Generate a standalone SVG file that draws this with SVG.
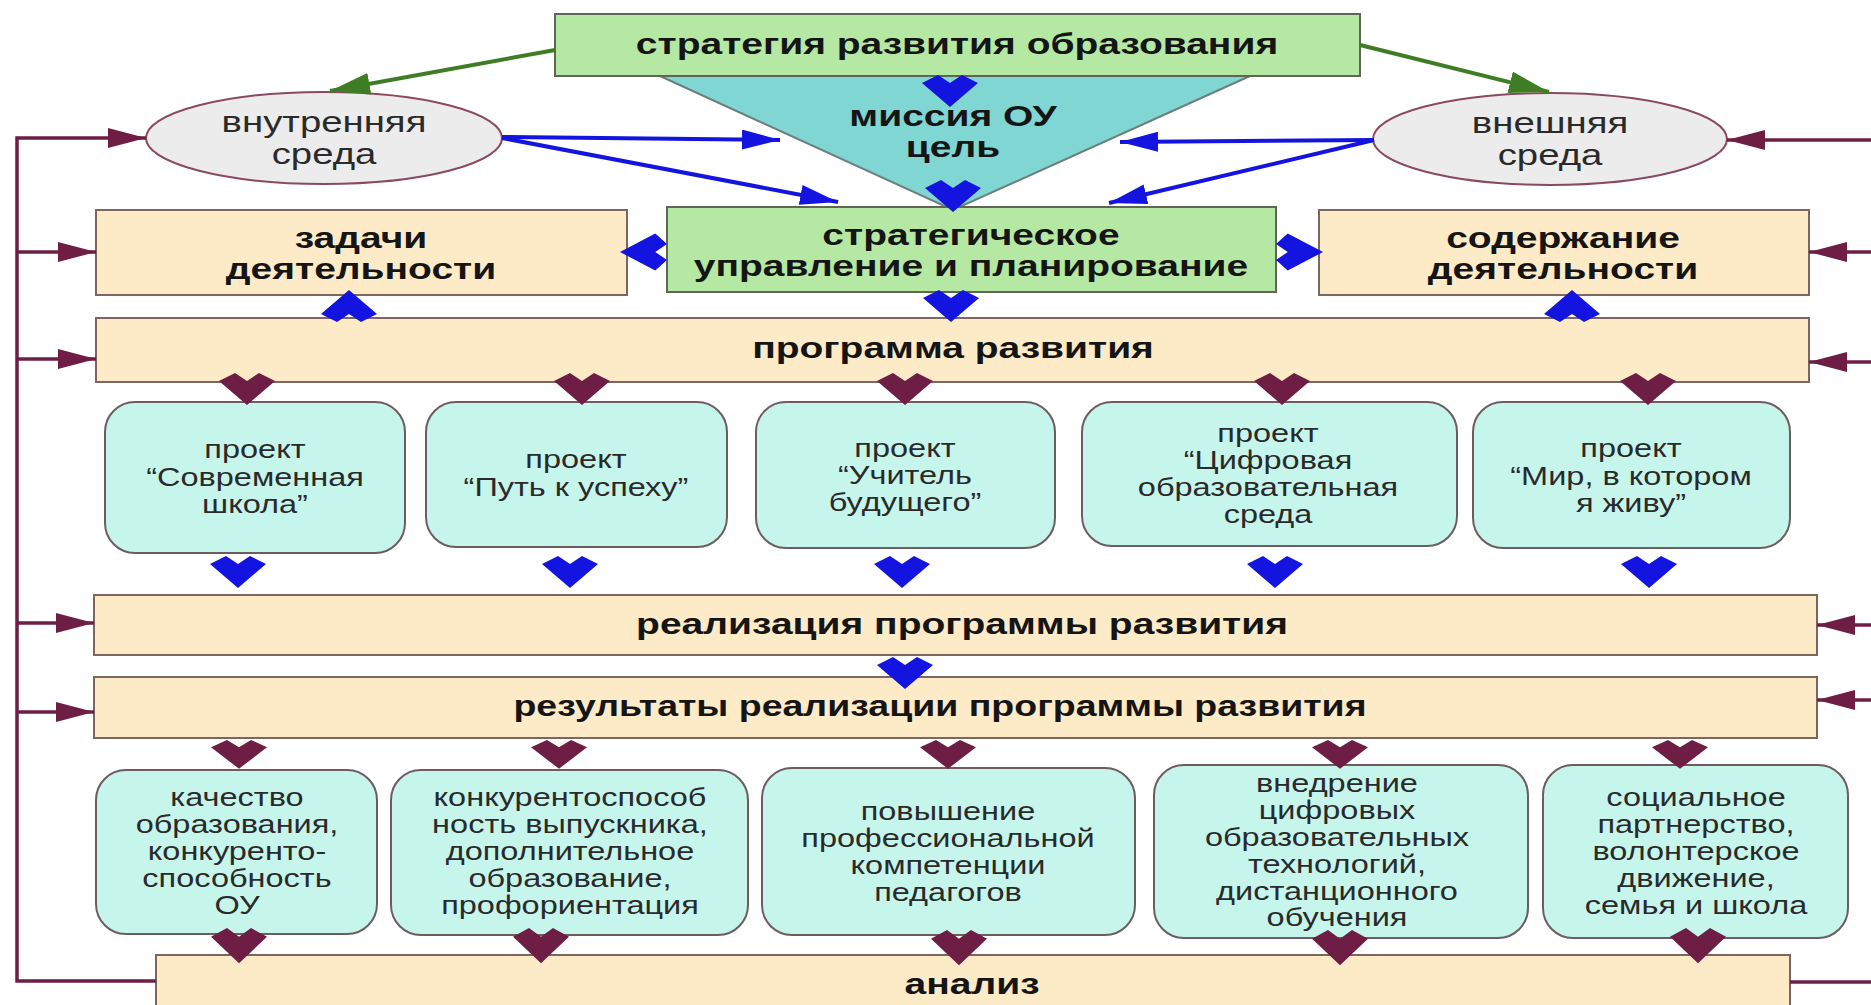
<svg xmlns="http://www.w3.org/2000/svg" xmlns:xlink="http://www.w3.org/1999/xlink" width="1871" height="1005" viewBox="0 0 1871 1005">
<style>
text{font-family:"Liberation Sans",Arial,sans-serif;text-anchor:middle;}
.b{font-weight:bold;font-size:30px;fill:#151515;}
.e{font-size:29.5px;fill:#2a2a2a;}
.p{font-size:25px;fill:#2a2a2a;}
.r{font-size:25px;fill:#2a2a2a;}
.green{fill:#b5e8a3;stroke:#5f6656;stroke-width:2;}
.beige{fill:#fdebc8;stroke:#7d6660;stroke-width:2;}
.cyan{fill:#c6f5ec;stroke:#6e5c60;stroke-width:2;}
.ell{fill:#ececec;stroke:#8a4a5c;stroke-width:2;}
.bl{stroke:#1414e0;stroke-width:4;fill:none;}
.gr{stroke:#3f7d24;stroke-width:4;fill:none;}
.mr{stroke:#6e1d45;stroke-width:3.5;fill:none;}
.fb{fill:#1414e0;}
.fm{fill:#6e1d45;}
</style>
<defs>
<marker id="mB" markerUnits="userSpaceOnUse" markerWidth="40" markerHeight="24" refX="38" refY="10" orient="auto"><path d="M0,0 L38,10 L0,20 Z" fill="#1414e0"/></marker>
<marker id="mG" markerUnits="userSpaceOnUse" markerWidth="44" markerHeight="26" refX="40" refY="11" orient="auto"><path d="M0,0 L40,11 L0,22 Z" fill="#3f7d24"/></marker>
<marker id="mM" markerUnits="userSpaceOnUse" markerWidth="42" markerHeight="24" refX="38" refY="10" orient="auto"><path d="M0,0 L38,10 L0,20 Z" fill="#6e1d45"/></marker>
<path id="fa" d="M-28,8 L-12,0 L0,8 L12,0 L28,8 L0,32 Z"/>
</defs>
<rect width="1871" height="1005" fill="#ffffff"/>

<g id="triangle-mission">
<path d="M660,76 L1250,76 L953,210 Z" fill="#80d6d2" stroke="#6c7f7e" stroke-width="2"/>
<text class="b" transform="translate(953 126) scale(1.3 1)">миссия ОУ</text>
<text class="b" transform="translate(953 157) scale(1.3 1)">цель</text>
</g>

<g id="strategy">
<rect class="green" x="555" y="14" width="805" height="62"/>
<text class="b" transform="translate(957 54) scale(1.3 1)">стратегия развития образования</text>
</g>

<g id="inner-env">
<ellipse class="ell" cx="324" cy="138" rx="178" ry="46"/>
<text class="e" transform="translate(324 132) scale(1.3 1)">внутренняя</text>
<text class="e" transform="translate(324 164) scale(1.3 1)">среда</text>
</g>

<g id="outer-env">
<ellipse class="ell" cx="1550" cy="139" rx="177" ry="46"/>
<text class="e" transform="translate(1550 133) scale(1.3 1)">внешняя</text>
<text class="e" transform="translate(1550 165) scale(1.3 1)">среда</text>
</g>

<g id="strategic-mgmt">
<rect class="green" x="667" y="207" width="609" height="85"/>
<text class="b" transform="translate(971 245) scale(1.3 1)">стратегическое</text>
<text class="b" transform="translate(971 276) scale(1.3 1)">управление и планирование</text>
</g>

<g id="tasks">
<rect class="beige" x="96" y="210" width="531" height="85"/>
<text class="b" transform="translate(361 248) scale(1.3 1)">задачи</text>
<text class="b" transform="translate(361 279) scale(1.3 1)">деятельности</text>
</g>

<g id="content">
<rect class="beige" x="1319" y="210" width="490" height="85"/>
<text class="b" transform="translate(1563 248) scale(1.3 1)">содержание</text>
<text class="b" transform="translate(1563 279) scale(1.3 1)">деятельности</text>
</g>

<g id="program">
<rect class="beige" x="96" y="318" width="1713" height="64"/>
<text class="b" transform="translate(953 358) scale(1.3 1)">программа развития</text>
</g>

<g id="project-1">
<rect class="cyan" x="105" y="402" width="300" height="151" rx="30"/>
<text class="p" transform="translate(255 458) scale(1.3 1)">проект</text>
<text class="p" transform="translate(255 486) scale(1.3 1)">“Современная</text>
<text class="p" transform="translate(255 513) scale(1.3 1)">школа”</text>
</g>
<g id="project-2">
<rect class="cyan" x="426" y="402" width="301" height="145" rx="30"/>
<text class="p" transform="translate(576 468) scale(1.3 1)">проект</text>
<text class="p" transform="translate(576 496) scale(1.3 1)">“Путь к успеху”</text>
</g>
<g id="project-3">
<rect class="cyan" x="756" y="402" width="299" height="146" rx="30"/>
<text class="p" transform="translate(905 457) scale(1.3 1)">проект</text>
<text class="p" transform="translate(905 484) scale(1.3 1)">“Учитель</text>
<text class="p" transform="translate(905 511) scale(1.3 1)">будущего”</text>
</g>
<g id="project-4">
<rect class="cyan" x="1082" y="402" width="375" height="144" rx="30"/>
<text class="p" transform="translate(1268 442) scale(1.3 1)">проект</text>
<text class="p" transform="translate(1268 469) scale(1.3 1)">“Цифровая</text>
<text class="p" transform="translate(1268 496) scale(1.3 1)">образовательная</text>
<text class="p" transform="translate(1268 523) scale(1.3 1)">среда</text>
</g>
<g id="project-5">
<rect class="cyan" x="1473" y="402" width="317" height="146" rx="30"/>
<text class="p" transform="translate(1631 457) scale(1.3 1)">проект</text>
<text class="p" transform="translate(1631 485) scale(1.3 1)">“Мир, в котором</text>
<text class="p" transform="translate(1631 512) scale(1.3 1)">я живу”</text>
</g>

<g id="implementation">
<rect class="beige" x="94" y="595" width="1723" height="60"/>
<text class="b" transform="translate(962 634) scale(1.3 1)">реализация программы развития</text>
</g>

<g id="results">
<rect class="beige" x="94" y="677" width="1723" height="61"/>
<text class="b" transform="translate(940 716) scale(1.25 1)">результаты реализации программы развития</text>
</g>

<g id="result-1">
<rect class="cyan" x="96" y="770" width="281" height="164" rx="30"/>
<text class="r" transform="translate(237 806) scale(1.3 1)">качество</text>
<text class="r" transform="translate(237 833) scale(1.3 1)">образования,</text>
<text class="r" transform="translate(237 860) scale(1.3 1)">конкуренто-</text>
<text class="r" transform="translate(237 887) scale(1.3 1)">способность</text>
<text class="r" transform="translate(237 914) scale(1.3 1)">ОУ</text>
</g>
<g id="result-2">
<rect class="cyan" x="391" y="770" width="357" height="165" rx="30"/>
<text class="r" transform="translate(570 806) scale(1.3 1)">конкурентоспособ</text>
<text class="r" transform="translate(570 833) scale(1.3 1)">ность выпускника,</text>
<text class="r" transform="translate(570 860) scale(1.3 1)">дополнительное</text>
<text class="r" transform="translate(570 887) scale(1.3 1)">образование,</text>
<text class="r" transform="translate(570 914) scale(1.3 1)">профориентация</text>
</g>
<g id="result-3">
<rect class="cyan" x="762" y="768" width="373" height="167" rx="30"/>
<text class="r" transform="translate(948 820) scale(1.3 1)">повышение</text>
<text class="r" transform="translate(948 847) scale(1.3 1)">профессиональной</text>
<text class="r" transform="translate(948 874) scale(1.3 1)">компетенции</text>
<text class="r" transform="translate(948 901) scale(1.3 1)">педагогов</text>
</g>
<g id="result-4">
<rect class="cyan" x="1154" y="765" width="374" height="173" rx="30"/>
<text class="r" transform="translate(1337 792) scale(1.3 1)">внедрение</text>
<text class="r" transform="translate(1337 819) scale(1.3 1)">цифровых</text>
<text class="r" transform="translate(1337 846) scale(1.3 1)">образовательных</text>
<text class="r" transform="translate(1337 873) scale(1.3 1)">технологий,</text>
<text class="r" transform="translate(1337 900) scale(1.3 1)">дистанционного</text>
<text class="r" transform="translate(1337 926) scale(1.3 1)">обучения</text>
</g>
<g id="result-5">
<rect class="cyan" x="1543" y="765" width="305" height="173" rx="30"/>
<text class="r" transform="translate(1696 806) scale(1.3 1)">социальное</text>
<text class="r" transform="translate(1696 833) scale(1.3 1)">партнерство,</text>
<text class="r" transform="translate(1696 860) scale(1.3 1)">волонтерское</text>
<text class="r" transform="translate(1696 887) scale(1.3 1)">движение,</text>
<text class="r" transform="translate(1696 914) scale(1.3 1)">семья и школа</text>
</g>

<g id="analysis">
<rect class="beige" x="156" y="955" width="1634" height="70"/>
<text class="b" transform="translate(972 994) scale(1.3 1)">анализ</text>
</g>

<g id="connectors">
<path class="gr" d="M555,50 L330,91" marker-end="url(#mG)"/>
<path class="gr" d="M1360,45 L1549,92" marker-end="url(#mG)"/>
<path class="bl" d="M502,137 L780,140" marker-end="url(#mB)"/>
<path class="bl" d="M502,138 L838,202" marker-end="url(#mB)"/>
<path class="bl" d="M1374,140 L1120,142" marker-end="url(#mB)"/>
<path class="bl" d="M1374,140 L1109,203" marker-end="url(#mB)"/>
<path class="mr" d="M156,981 H17 V138 H146" marker-end="url(#mM)"/>
<path class="mr" d="M17,252 H96" marker-end="url(#mM)"/>
<path class="mr" d="M17,359 H96" marker-end="url(#mM)"/>
<path class="mr" d="M17,623 H94" marker-end="url(#mM)"/>
<path class="mr" d="M17,712 H94" marker-end="url(#mM)"/>
<path class="mr" d="M1871,140 H1727" marker-end="url(#mM)"/>
<path class="mr" d="M1871,252 H1809" marker-end="url(#mM)"/>
<path class="mr" d="M1871,362 H1809" marker-end="url(#mM)"/>
<path class="mr" d="M1871,625 H1817" marker-end="url(#mM)"/>
<path class="mr" d="M1871,700 H1817" marker-end="url(#mM)"/>
<path class="mr" d="M1871,982 H1790"/>
<g class="fb">
<use xlink:href="#fa" transform="translate(950 75)"/>
<use xlink:href="#fa" transform="translate(953 180)"/>
<use xlink:href="#fa" transform="translate(951 290)"/>
<use xlink:href="#fa" transform="translate(349 322) rotate(180)"/>
<use xlink:href="#fa" transform="translate(1572 322) rotate(180)"/>
<use xlink:href="#fa" transform="translate(667 252) rotate(90) scale(0.66 1.47)"/>
<use xlink:href="#fa" transform="translate(1276 252) rotate(-90) scale(0.66 1.47)"/>
<use xlink:href="#fa" transform="translate(238 556)"/>
<use xlink:href="#fa" transform="translate(570 556)"/>
<use xlink:href="#fa" transform="translate(902 556)"/>
<use xlink:href="#fa" transform="translate(1275 556)"/>
<use xlink:href="#fa" transform="translate(1649 556)"/>
<use xlink:href="#fa" transform="translate(905 657)"/>
</g>
<g class="fm">
<use xlink:href="#fa" transform="translate(247 373)"/>
<use xlink:href="#fa" transform="translate(582 373)"/>
<use xlink:href="#fa" transform="translate(905 373)"/>
<use xlink:href="#fa" transform="translate(1282 373)"/>
<use xlink:href="#fa" transform="translate(1648 373)"/>
<use xlink:href="#fa" transform="translate(239 740) scale(1 0.9)"/>
<use xlink:href="#fa" transform="translate(559 740) scale(1 0.9)"/>
<use xlink:href="#fa" transform="translate(948 740) scale(1 0.9)"/>
<use xlink:href="#fa" transform="translate(1340 740) scale(1 0.9)"/>
<use xlink:href="#fa" transform="translate(1680 740) scale(1 0.9)"/>
<use xlink:href="#fa" transform="translate(239 928) scale(1 1.1)"/>
<use xlink:href="#fa" transform="translate(541 928) scale(1 1.1)"/>
<use xlink:href="#fa" transform="translate(959 930) scale(1 1.1)"/>
<use xlink:href="#fa" transform="translate(1340 930) scale(1 1.1)"/>
<use xlink:href="#fa" transform="translate(1698 928) scale(1 1.1)"/>
</g>
</g>
</svg>
